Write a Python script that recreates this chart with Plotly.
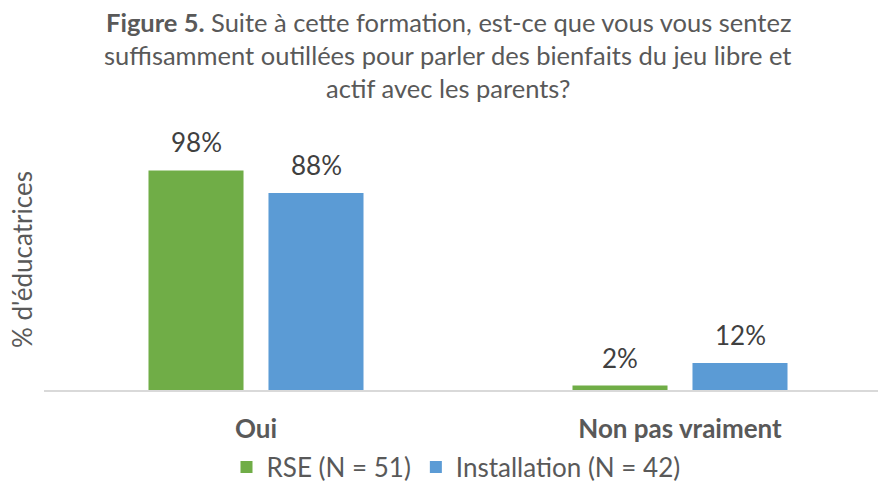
import plotly.graph_objects as go

categories = ["Oui", "Non pas vraiment"]
series_names = ["RSE (N = 51)", "Installation (N = 42)"]
rse_values = [98, 2]
installation_values = [88, 12]
colors = ["#70AD47", "#5B9BD5"]
title_lines = [
    "<b>Figure 5.</b> Suite à cette formation, est-ce que vous vous sentez",
    "suffisamment outillées pour parler des bienfaits du jeu libre et",
    "actif avec les parents?",
]
y_title = "% d'éducatrices"

FONT = "Lato"
TXT = "#595959"

W, H = 878, 483
ml, mr, mt, mb = 44, 0, 166, 93
ph = H - mt - mb
cat_w = 424


def py(pix):
    return (H - mb - pix) / ph


fig = go.Figure()
for name, vals, col in zip(series_names, [rse_values, installation_values], colors):
    fig.add_trace(go.Bar(
        x=categories, y=vals, name=name, marker=dict(color=col, line=dict(width=0)),
        cliponaxis=False,
    ))

annotations = []
for vals, shift in zip([rse_values, installation_values], [-60, 60]):
    for c, v in zip(categories, vals):
        annotations.append(dict(
            x=c, y=v, xref="x", yref="y", text=f"{v}%", showarrow=False,
            xshift=shift, yshift=28, yanchor="middle",
            font=dict(family=FONT, size=26, color="#404040"),
        ))

for k, line in enumerate(title_lines):
    annotations.append(dict(
        x=(448 - ml) / (W - ml - mr), y=py(22 + 33 * k), xref="paper", yref="paper",
        text=line, showarrow=False, xanchor="center", yanchor="middle",
        font=dict(family=FONT, size=25.5, color=TXT),
    ))

annotations.append(dict(
    x=(22 - ml) / (W - ml - mr), y=py(260), xref="paper", yref="paper",
    text=y_title, showarrow=False, textangle=-90, xanchor="center", yanchor="middle",
    font=dict(family=FONT, size=26, color=TXT),
))

fig.update_layout(
    width=W, height=H,
    margin=dict(l=ml, r=mr, t=mt, b=mb, autoexpand=False),
    paper_bgcolor="white", plot_bgcolor="white",
    barmode="group", bargap=0.434, bargroupgap=0.208,
    font=dict(family=FONT, color=TXT),
    xaxis=dict(
        range=[-0.5, -0.5 + (W - ml - mr) / cat_w],
        showline=True, linecolor="#D9D9D9", linewidth=2,
        ticks="", showgrid=False, zeroline=False, automargin=False,
        tickvals=categories,
        ticktext=[f"<b>{c}</b>" for c in categories],
        tickfont=dict(family=FONT, size=26, color=TXT),
        ticklabelstandoff=15,
    ),
    yaxis=dict(
        range=[0, 100], showgrid=False, zeroline=False, showticklabels=False,
        ticks="", automargin=False,
    ),
    legend=dict(
        orientation="h", x=(456 - ml) / (W - ml - mr), xanchor="center",
        y=py(467), yanchor="middle", bgcolor="rgba(0,0,0,0)",
        font=dict(family=FONT, size=26, color=TXT),
        itemwidth=30, traceorder="normal",
    ),
    annotations=annotations,
    showlegend=True,
)
fig.write_html("out.html", config={"displayModeBar": False},
               post_script="document.body.style.margin='0';")
